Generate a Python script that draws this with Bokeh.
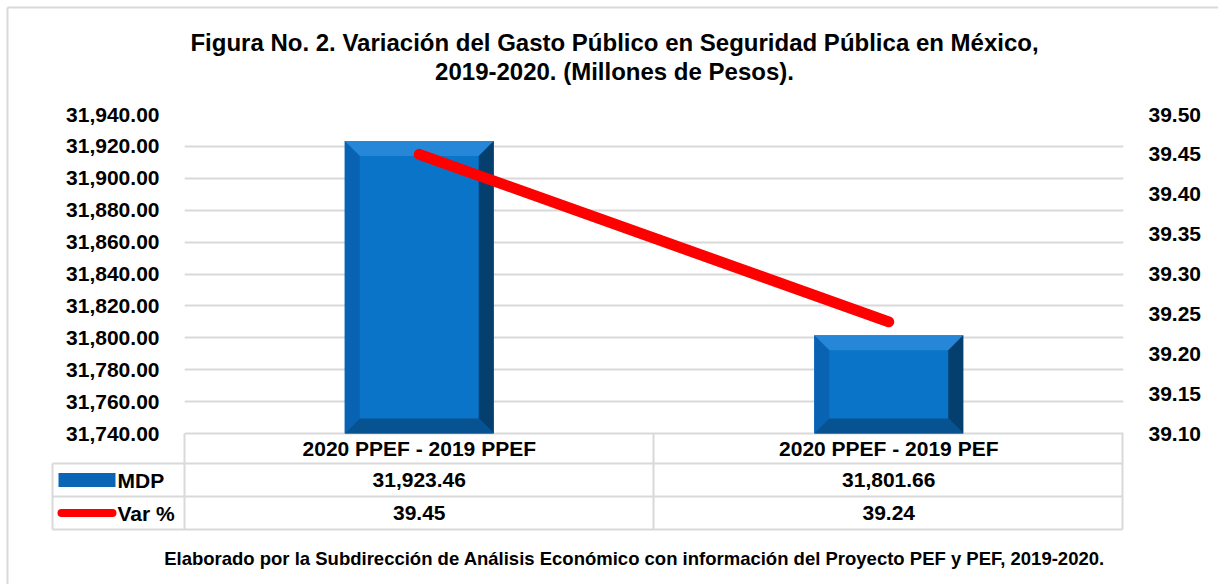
from bokeh.plotting import figure
from bokeh.models import FactorRange, Range1d, LinearAxis, FixedTicker, NumeralTickFormatter
from bokeh.core.properties import value
from bokeh.embed import file_html
from bokeh.resources import INLINE

# ---------------- data ----------------
categories = ["2020 PPEF - 2019 PPEF", "2020 PPEF - 2019 PEF"]
mdp = [31923.46, 31801.66]
var_pct = [39.45, 39.24]
series_names = ["MDP", "Var %"]
left_ticks = [31740, 31760, 31780, 31800, 31820, 31840, 31860, 31880, 31900, 31920, 31940]
right_ticks = [39.10, 39.15, 39.20, 39.25, 39.30, 39.35, 39.40, 39.45, 39.50]
title_lines = ["Figura No. 2. Variación del Gasto Público en Seguridad Pública en México,",
               "2019-2020. (Millones de Pesos)."]
footer_text = ("Elaborado por la Subdirección de Análisis Económico con información "
               "del Proyecto PEF y PEF, 2019-2020.")

# ---------------- layout (page pixels) ----------------
W, H = 1218, 584
FL, FR, FT, FB = 184, 1123, 114, 531      # frame edges
AXB = 433                                  # pixel row of lowest tick
FONT = "Liberation Sans"
GRID_C = "#D9D9D9"

k_left = (AXB - FT) / (left_ticks[-1] - left_ticks[0])
k_right = (AXB - FT) / (right_ticks[-1] - right_ticks[0])
unit_x = (FR - FL) / len(categories)


def ux(px):
    return (px - FL) / unit_x


def ly(py):
    return left_ticks[0] - (py - AXB) / k_left


p = figure(width=W, height=H, x_range=FactorRange(factors=categories, range_padding=0, factor_padding=0),
           y_range=Range1d(ly(FB), left_ticks[-1]),
           x_axis_location=None, output_backend="svg", toolbar_location=None,
           min_border_left=FL, min_border_right=W - FR,
           min_border_top=FT, min_border_bottom=H - FB)
p.outline_line_color = None
p.background_fill_color = "white"
p.border_fill_color = "white"

p.extra_y_ranges = {"pct": Range1d(right_ticks[0] - (FB - AXB) / k_right, right_ticks[-1])}

# axes
yax = p.yaxis[0]
yax.ticker = FixedTicker(ticks=left_ticks)
yax.formatter = NumeralTickFormatter(format="0,0.00")
rax = LinearAxis(y_range_name="pct", ticker=FixedTicker(ticks=right_ticks),
                 formatter=NumeralTickFormatter(format="0.00"))
p.add_layout(rax, "right")
for ax in (yax, rax):
    ax.axis_line_color = None
    ax.major_tick_line_color = None
    ax.minor_tick_line_color = None
    ax.major_tick_out = 0
    ax.major_tick_in = 0
    ax.major_label_standoff = 25
    ax.major_label_text_font = FONT
    ax.major_label_text_font_style = "bold"
    ax.major_label_text_font_size = "21px"
    ax.major_label_text_color = "black"

p.xgrid.visible = False
p.ygrid.ticker = FixedTicker(ticks=left_ticks)
p.ygrid.grid_line_color = GRID_C
p.ygrid.grid_line_width = 2

# ---------------- bars with bevel ----------------
bar_w = 149 / unit_x
bev_x = 15 / unit_x
bev_y = 15 / k_left
face_c = "#0A74C8"
side_cols = ["#2687D8", "#0A63B2", "#053F6E", "#075290"]  # top, left, right, bottom


def bevel_polys(L, R, B, T, bx, by):
    iL, iR, iB, iT = L + bx, R - bx, B + by, T - by
    return [([L, R, iR, iL], [T, T, iT, iT]),
            ([L, iL, iL, L], [B, iB, iT, T]),
            ([R, iR, iR, R], [B, iB, iT, T]),
            ([L, R, iR, iL], [B, B, iB, iB])]


p.vbar(x=categories, top=mdp, bottom=left_ticks[0], width=bar_w, fill_color=face_c, line_color=None)
xs, ys, cs = [], [], []
for i, v in enumerate(mdp):
    c = i + 0.5
    for (px_, py_), col in zip(bevel_polys(c - bar_w / 2, c + bar_w / 2, left_ticks[0], v, bev_x, bev_y), side_cols):
        xs.append(px_); ys.append(py_); cs.append(col)
p.patches(xs=xs, ys=ys, fill_color=cs, line_color=None)

# ---------------- line ----------------
p.line(x=categories, y=var_pct, y_range_name="pct", line_color="#FF0000", line_width=11,
       line_cap="round", line_join="round")

# ---------------- data table ----------------
row_hdr, row1, row2 = 448, 479.5, 512.5
tbl_top, r1_top, r2_top, tbl_bot = AXB, 463, 496, 529
lab_left = 52
txt = dict(text_baseline="middle", text_font=value(FONT), text_font_style="bold", text_color="black")
p.text(x=categories, y=[ly(row_hdr)] * len(categories), text=categories, text_align="center",
       text_font_size="21px", **txt)
p.text(x=categories, y=[ly(row1)] * len(categories), text=[f"{v:,.2f}" for v in mdp], text_align="center",
       text_font_size="21px", **txt)
p.text(x=categories, y=[ly(row2)] * len(categories), text=[f"{v:.2f}" for v in var_pct], text_align="center",
       text_font_size="21px", **txt)

x0s, y0s, x1s, y1s = [], [], [], []
for yy in (r1_top, r2_top, tbl_bot):
    x0s.append(ux(lab_left)); x1s.append(ux(1122)); y0s.append(ly(yy)); y1s.append(ly(yy))
for xx, top in ((lab_left, r1_top), (FL, tbl_top), (653, tbl_top), (1122, tbl_top)):
    x0s.append(ux(xx)); x1s.append(ux(xx)); y0s.append(ly(top)); y1s.append(ly(tbl_bot))
# outer chart border (left and top)
x0s += [ux(7), ux(7)]; x1s += [ux(7), ux(W)]
y0s += [ly(7), ly(7)]; y1s += [ly(H), ly(7)]
p.segment(x0=x0s, y0=y0s, x1=x1s, y1=y1s, line_color=GRID_C, line_width=2, level="overlay")

# legend keys
ic_l, ic_r = 58, 115
ixs, iys, ics = [], [], []
for (px_, py_), col in zip(bevel_polys(ux(ic_l), ux(ic_r), ly(row1 + 7), ly(row1 - 7), 6 / unit_x, 5 / k_left),
                           ["#2F86D0", "#0A5EA8", "#06365F", "#0B3F6E"]):
    ixs.append(px_); iys.append(py_); ics.append(col)
p.quad(left=ux(ic_l), right=ux(ic_r), bottom=ly(row1 + 7), top=ly(row1 - 7), fill_color="#0A66B5",
       line_color=None, level="overlay")
p.patches(xs=ixs, ys=iys, fill_color=ics, line_color=None, level="overlay")
p.segment(x0=[ux(ic_l + 3)], y0=[ly(row2)], x1=[ux(ic_r - 3)], y1=[ly(row2)], line_color="#FF0000",
          line_width=8, line_cap="round", level="overlay")

p.text(x=[ux(117)] * 2, y=[ly(row1), ly(row2)], text=series_names, text_align="left",
       text_font_size="21px", level="overlay", **txt)

# ---------------- title & footer ----------------
p.text(x=[ux(614)] * 2, y=[ly(41.5), ly(70.5)], text=title_lines, text_align="center",
       text_font_size="24px", level="overlay", **txt)
p.text(x=[ux(634)], y=[ly(558)], text=[footer_text], text_align="center",
       text_font_size="18.5px", level="overlay", **txt)

open("out.html", "w").write(file_html(p, INLINE))
